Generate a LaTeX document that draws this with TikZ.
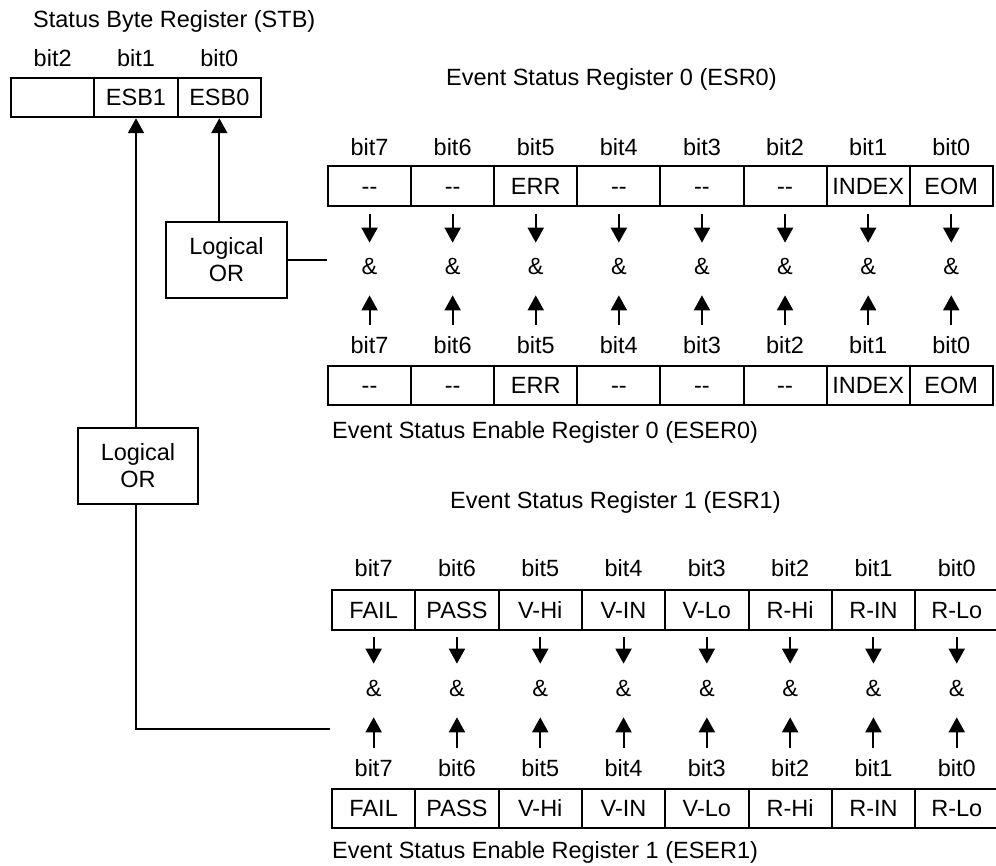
\documentclass[tikz,border=0pt]{standalone}
\usepackage{fontspec}
\setmainfont{Liberation Sans}
\usetikzlibrary{arrows.meta}
\newcommand\dd{-\kern0pt-}
\begin{document}
\begin{tikzpicture}[x=1pt,y=-1pt,
  txt/.style={font=\fontsize{23.5}{27}\selectfont, inner sep=0pt, text height=16.8pt, text depth=0pt},
  ttl/.style={txt, anchor=west},
  cell/.style={draw, line width=2pt, minimum height=39.5pt, inner sep=0pt,
    font=\fontsize{23.5}{27}\selectfont, text height=16.8pt, text depth=0pt},
  orbox/.style={draw, line width=2pt, align=center, inner sep=0pt,
    font=\fontsize{23.5}{27}\selectfont},
  wire/.style={line width=2pt},
  arr/.style={line width=2pt, -{Triangle[width=16pt,length=15pt]}},
]
\useasboundingbox (0,0) rectangle (996,866);

% Status Byte Register
\node[ttl] (stbtitle) at (33,19.5) {Status Byte Register (STB)};
\foreach \k/\b/\t in {0/2/{},1/1/ESB1,2/0/ESB0} {
  \pgfmathsetmacro\cx{11+(\k+0.5)*83.33}
  \node[txt] (stbbit\b) at (\cx,58) {bit\b};
  \node[cell, minimum width=83.33pt] (stb\b) at (\cx,97.5) {\t};
}

% ESR0 / ESER0
\node[ttl] (esr0title) at (446,77) {Event Status Register 0 (ESR0)};
\foreach \k/\b/\t in {0/7/\dd,1/6/\dd,2/5/ERR,3/4/\dd,4/3/\dd,5/2/\dd,6/1/INDEX,7/0/EOM} {
  \pgfmathsetmacro\cx{328+(\k+0.5)*83.1}
  \node[txt] (atb\b) at (\cx,147) {bit\b};
  \node[cell, minimum width=83.1pt] (at\b) at (\cx,186) {\t};
  \node[txt] (aand\b) at (\cx,266) {\&};
  \node[txt] (abb\b) at (\cx,345) {bit\b};
  \node[cell, minimum width=83.1pt] (ab\b) at (\cx,385.5) {\t};
  \draw[arr, shorten <=7pt, shorten >=14.75pt] (at\b) -- (aand\b);
  \draw[arr, shorten <=11.75pt, shorten >=20.75pt] (abb\b) -- (aand\b);
}
\node[ttl] (eser0title) at (332,430) {Event Status Enable Register 0 (ESER0)};

% ESR1 / ESER1
\node[ttl] (esr1title) at (450,500) {Event Status Register 1 (ESR1)};
\foreach \k/\b/\t in {0/7/FAIL,1/6/PASS,2/5/V-Hi,3/4/V-IN,4/3/V-Lo,5/2/R-Hi,6/1/R-IN,7/0/R-Lo} {
  \pgfmathsetmacro\cx{332+(\k+0.5)*83.3}
  \node[txt] (ctb\b) at (\cx,568) {bit\b};
  \node[cell, minimum width=83.3pt] (ct\b) at (\cx,610) {\t};
  \node[txt] (cand\b) at (\cx,688) {\&};
  \node[txt] (cbb\b) at (\cx,768) {bit\b};
  \node[cell, minimum width=83.3pt] (cb\b) at (\cx,808.5) {\t};
  \draw[arr, shorten <=6pt, shorten >=15.75pt] (ct\b) -- (cand\b);
  \draw[arr, shorten <=11.75pt, shorten >=20.75pt] (cbb\b) -- (cand\b);
}
\node[ttl] (eser1title) at (332,850) {Event Status Enable Register 1 (ESER1)};

% Logical OR boxes
\node[orbox, minimum width=121pt, minimum height=76pt] (or0) at (226.5,260) {Logical\\OR};
\node[orbox, minimum width=120pt, minimum height=76pt] (or1) at (138,466) {Logical\\OR};

\draw[arr] (or0.north -| stb0) -- (stb0.south);
\draw[wire] (or0.east) -- (or0.east -| at7.west);
\draw[arr] (or1.north -| stb1) -- (stb1.south);
\coordinate (or1end) at (330,729);
\draw[wire] (or1.south -| stb1) |- (or1end);
\end{tikzpicture}
\end{document}
